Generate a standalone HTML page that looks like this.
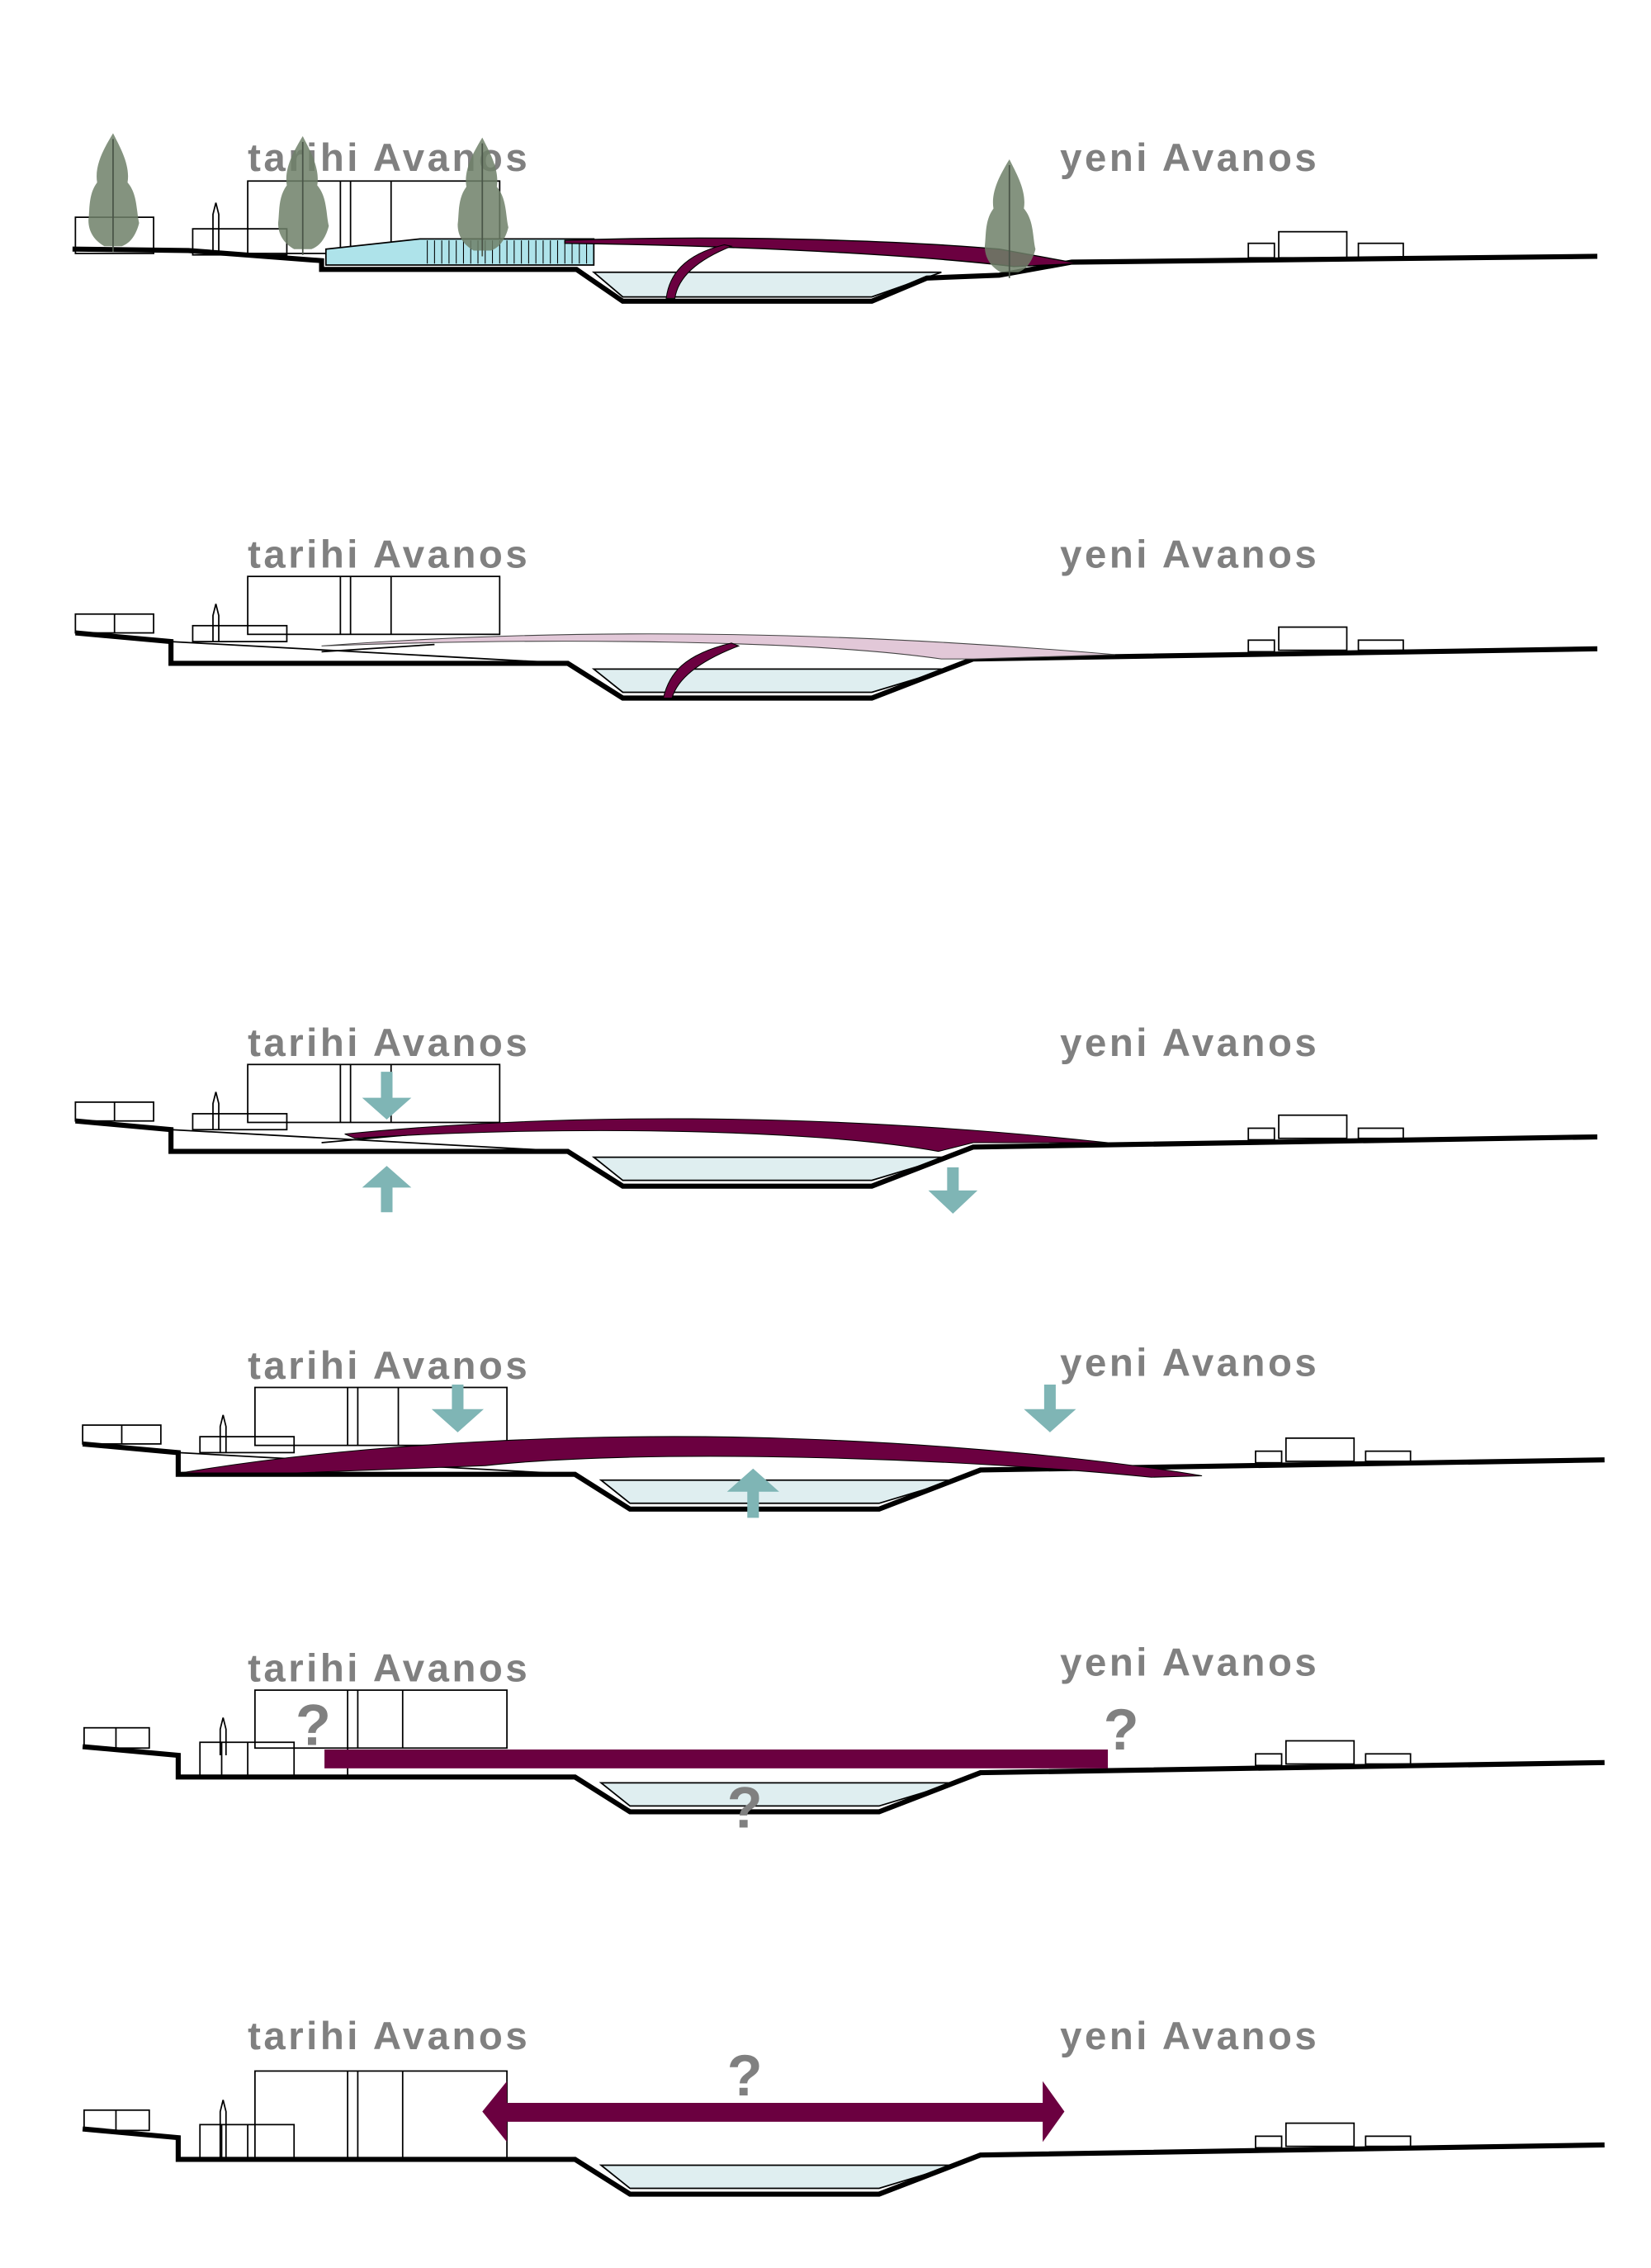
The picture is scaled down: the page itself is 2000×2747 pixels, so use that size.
<!DOCTYPE html>
<html><head><meta charset="utf-8"><style>
html,body{margin:0;padding:0;background:#fff;}
svg{display:block;}
text{font-family:"Liberation Sans",sans-serif;font-weight:bold;fill:#808080;}
</style></head><body>
<svg width="2000" height="2747" viewBox="0 0 1140 1566" xmlns="http://www.w3.org/2000/svg">
<defs>
<g id="tree">
<path d="M0,-48 C5,-38 12,-26 10,-14 C17,-6 16,6 18,14 C16,22 12,28 6,30 L-6,30 C-13,26 -17,20 -17,12 C-16,4 -17,-6 -11,-14 C-13,-26 -6,-38 0,-48Z" fill="#6f8068" opacity="0.85"/>
<line x1="0" y1="-44" x2="0" y2="34" stroke="#4a5548" stroke-width="1"/>
</g>
</defs>

<!-- ===== SECTION 1 ===== -->
<text x="171" y="118" font-size="27" letter-spacing="2">tarihi Avanos</text>
<text x="732" y="118" font-size="27" letter-spacing="2">yeni Avanos</text>
<g fill="none" stroke="#000" stroke-width="1">
<rect x="52" y="150" width="54" height="25"/>
<rect x="133" y="158" width="65" height="18"/>
<rect x="171" y="125" width="174" height="50"/>
<line x1="235" y1="125" x2="235" y2="175"/><line x1="242" y1="125" x2="242" y2="175"/><line x1="270" y1="125" x2="270" y2="175"/>
<path d="M147,175 L147,148 L149,140 L151,148 L151,175"/>
<rect x="862" y="168" width="18" height="10"/>
<rect x="883" y="160" width="47" height="18"/>
<rect x="938" y="168" width="31" height="10"/>
</g>
<path d="M225,172 L290,165 L410,165 L410,183 L225,183Z" fill="#aee3ea" stroke="#000" stroke-width="1"/>
<g stroke="#000" stroke-width="0.6">
<line x1="295" y1="166" x2="295" y2="182"/><line x1="300" y1="166" x2="300" y2="182"/><line x1="305" y1="166" x2="305" y2="182"/><line x1="310" y1="166" x2="310" y2="182"/><line x1="315" y1="166" x2="315" y2="182"/><line x1="320" y1="166" x2="320" y2="182"/><line x1="325" y1="166" x2="325" y2="182"/><line x1="330" y1="166" x2="330" y2="182"/><line x1="335" y1="166" x2="335" y2="182"/><line x1="340" y1="166" x2="340" y2="182"/><line x1="345" y1="166" x2="345" y2="182"/><line x1="350" y1="166" x2="350" y2="182"/><line x1="355" y1="166" x2="355" y2="182"/><line x1="360" y1="166" x2="360" y2="182"/><line x1="365" y1="166" x2="365" y2="182"/><line x1="370" y1="166" x2="370" y2="182"/><line x1="375" y1="166" x2="375" y2="182"/><line x1="380" y1="166" x2="380" y2="182"/><line x1="385" y1="166" x2="385" y2="182"/><line x1="390" y1="166" x2="390" y2="182"/><line x1="395" y1="166" x2="395" y2="182"/><line x1="400" y1="166" x2="400" y2="182"/><line x1="405" y1="166" x2="405" y2="182"/>
</g>
<path d="M410,188 L650,188 L602,205 L430,205Z" fill="#dfeef0" stroke="#000" stroke-width="1"/>
<path d="M50,172 L130,173 L222,180 L222,186 L365,186 L398,186 L430,208 L602,208 L640,192 L690,190 L740,181 L1103,177" fill="none" stroke="#000" stroke-width="3.5"/>
<path d="M390,166 C500,162 620,166 690,172 L745,182 L700,184 C650,178 540,170 390,168Z" fill="#6b0040" stroke="#000" stroke-width="0.8"/>
<path d="M460,206 C462,190 472,176 500,169 L505,170 C480,180 468,192 466,206Z" fill="#6b0040" stroke="#000" stroke-width="0.6"/>
<use href="#tree" x="78" y="140"/>
<use href="#tree" x="209" y="142"/>
<use href="#tree" x="333" y="143"/>
<use href="#tree" x="697" y="158"/>

<!-- ===== SECTION 2 ===== -->
<text x="171" y="392" font-size="27" letter-spacing="2">tarihi Avanos</text>
<text x="732" y="392" font-size="27" letter-spacing="2">yeni Avanos</text>
<g fill="none" stroke="#000" stroke-width="1">
<rect x="52" y="424" width="54" height="13"/><line x1="79" y1="424" x2="79" y2="437"/>
<rect x="133" y="432" width="65" height="11"/>
<rect x="171" y="398" width="174" height="40"/>
<line x1="235" y1="398" x2="235" y2="438"/><line x1="242" y1="398" x2="242" y2="438"/><line x1="270" y1="398" x2="270" y2="438"/>
<path d="M147,443 L147,425 L149,417 L151,425 L151,443"/>
<rect x="862" y="442" width="18" height="8"/>
<rect x="883" y="433" width="47" height="16"/>
<rect x="938" y="442" width="31" height="7"/>
<path d="M118,443 L392,458"/><path d="M222,450 L300,445"/>
</g>
<path d="M410,462 L655,462 L602,478 L430,478Z" fill="#dfeef0" stroke="#000" stroke-width="1"/>
<path d="M52,437 L118,443 L118,458 L392,458 L430,482 L602,482 L672,455 L1103,448" fill="none" stroke="#000" stroke-width="3.5"/>
<path d="M222,446 C380,434 560,434 770,452 L672,455 L650,455 C560,442 380,440 222,446Z" fill="#e2c8d8" stroke="#444" stroke-width="0.6"/>
<path d="M458,482 C462,465 472,452 505,444 L510,446 C484,456 468,468 464,482Z" fill="#6b0040" stroke="#000" stroke-width="0.6"/>

<!-- ===== SECTION 3 ===== -->
<text x="171" y="729" font-size="27" letter-spacing="2">tarihi Avanos</text>
<text x="732" y="729" font-size="27" letter-spacing="2">yeni Avanos</text>
<g transform="translate(0,337)">
<g fill="none" stroke="#000" stroke-width="1">
<rect x="52" y="424" width="54" height="13"/><line x1="79" y1="424" x2="79" y2="437"/>
<rect x="133" y="432" width="65" height="11"/>
<rect x="171" y="398" width="174" height="40"/>
<line x1="235" y1="398" x2="235" y2="438"/><line x1="242" y1="398" x2="242" y2="438"/><line x1="270" y1="398" x2="270" y2="438"/>
<path d="M147,443 L147,425 L149,417 L151,425 L151,443"/>
<rect x="862" y="442" width="18" height="8"/>
<rect x="883" y="433" width="47" height="16"/>
<rect x="938" y="442" width="31" height="7"/>
<path d="M118,443 L392,458"/><path d="M222,452 L300,445"/>
</g>
<path d="M410,462 L655,462 L602,478 L430,478Z" fill="#dfeef0" stroke="#000" stroke-width="1"/>
<path d="M52,437 L118,443 L118,458 L392,458 L430,482 L602,482 L672,455 L1103,448" fill="none" stroke="#000" stroke-width="3.5"/>
<path d="M238,446 C380,432 560,430 765,452 L672,452 L648,458 C560,442 380,440 245,449Z" fill="#6b0040" stroke="#000" stroke-width="0.6"/>
</g>
<g fill="#7fb5b5">
<path d="M263,740 L271,740 L271,758 L284,758 L267,773 L250,758 L263,758Z"/>
<path d="M263,837 L271,837 L271,820 L284,820 L267,805 L250,820 L263,820Z"/>
<path d="M654,806 L662,806 L662,822 L675,822 L658,838 L641,822 L654,822Z"/>
</g>

<!-- ===== SECTION 4 ===== -->
<text x="171" y="952" font-size="27" letter-spacing="2">tarihi Avanos</text>
<text x="732" y="950" font-size="27" letter-spacing="2">yeni Avanos</text>
<g transform="translate(5,560)">
<g fill="none" stroke="#000" stroke-width="1">
<rect x="52" y="424" width="54" height="13"/><line x1="79" y1="424" x2="79" y2="437"/>
<rect x="133" y="432" width="65" height="11"/>
<rect x="171" y="398" width="174" height="40"/>
<line x1="235" y1="398" x2="235" y2="438"/><line x1="242" y1="398" x2="242" y2="438"/><line x1="270" y1="398" x2="270" y2="438"/>
<path d="M147,443 L147,425 L149,417 L151,425 L151,443"/>
<rect x="862" y="442" width="18" height="8"/>
<rect x="883" y="433" width="47" height="16"/>
<rect x="938" y="442" width="31" height="7"/>
<path d="M118,443 L392,458"/>
</g>
<path d="M410,462 L655,462 L602,478 L430,478Z" fill="#dfeef0" stroke="#000" stroke-width="1"/>
<path d="M52,437 L118,443 L118,458 L392,458 L430,482 L602,482 L672,455 L1103,448" fill="none" stroke="#000" stroke-width="3.5"/>
<path d="M120,457 C250,435 420,428 560,434 C660,438 760,448 825,459 L790,460 C650,446 440,440 330,452 L200,457Z" fill="#6b0040" stroke="#000" stroke-width="0.6"/>
</g>
<g fill="#7fb5b5">
<path d="M312,956 L320,956 L320,973 L334,973 L316,989 L298,973 L312,973Z"/>
<path d="M721,956 L729,956 L729,973 L743,973 L725,989 L707,973 L721,973Z"/>
<path d="M516,1048 L524,1048 L524,1030 L538,1030 L520,1014 L502,1030 L516,1030Z"/>
</g>

<!-- ===== SECTION 5 ===== -->
<text x="171" y="1161" font-size="27" letter-spacing="2">tarihi Avanos</text>
<text x="732" y="1157" font-size="27" letter-spacing="2">yeni Avanos</text>
<g transform="translate(5,769)">
<g fill="none" stroke="#000" stroke-width="1">
<rect x="53" y="424" width="45" height="14"/><line x1="75" y1="424" x2="75" y2="438"/>
<rect x="133" y="434" width="65" height="24"/>
<rect x="171" y="398" width="174" height="40"/>
<line x1="235" y1="398" x2="235" y2="458"/><line x1="242" y1="398" x2="242" y2="438"/><line x1="273" y1="398" x2="273" y2="438"/>
<line x1="148" y1="434" x2="148" y2="458"/><line x1="166" y1="434" x2="166" y2="458"/>
<path d="M147,443 L147,425 L149,417 L151,425 L151,443"/>
<rect x="862" y="442" width="18" height="8"/>
<rect x="883" y="433" width="47" height="16"/>
<rect x="938" y="442" width="31" height="7"/>
</g>
<path d="M410,462 L655,462 L602,478 L430,478Z" fill="#dfeef0" stroke="#000" stroke-width="1"/>
<path d="M52,437 L118,443 L118,458 L392,458 L430,482 L602,482 L672,455 L1103,448" fill="none" stroke="#000" stroke-width="3.5"/>
</g>
<rect x="224" y="1208" width="541" height="13" fill="#6b0040"/>
<text x="204" y="1205" font-size="40" fill="#808080">?</text>
<text x="762" y="1208" font-size="40" fill="#808080">?</text>
<text x="502" y="1262" font-size="40" fill="#808080">?</text>

<!-- ===== SECTION 6 ===== -->
<text x="171" y="1415" font-size="27" letter-spacing="2">tarihi Avanos</text>
<text x="732" y="1415" font-size="27" letter-spacing="2">yeni Avanos</text>
<g transform="translate(5,1033)">
<g fill="none" stroke="#000" stroke-width="1">
<rect x="53" y="424" width="45" height="14"/><line x1="75" y1="424" x2="75" y2="438"/>
<rect x="133" y="434" width="65" height="24"/>
<rect x="171" y="397" width="174" height="61"/>
<line x1="235" y1="397" x2="235" y2="458"/><line x1="242" y1="397" x2="242" y2="458"/><line x1="273" y1="397" x2="273" y2="458"/>
<line x1="148" y1="434" x2="148" y2="458"/><line x1="166" y1="434" x2="166" y2="458"/>
<path d="M147,458 L147,425 L149,417 L151,425 L151,458"/>
<rect x="862" y="442" width="18" height="8"/>
<rect x="883" y="433" width="47" height="16"/>
<rect x="938" y="442" width="31" height="7"/>
</g>
<path d="M410,462 L655,462 L602,478 L430,478Z" fill="#dfeef0" stroke="#000" stroke-width="1"/>
<path d="M52,437 L118,443 L118,458 L392,458 L430,482 L602,482 L672,455 L1103,448" fill="none" stroke="#000" stroke-width="3.5"/>
</g>
<path d="M333,1458 L350,1437 L350,1452 L720,1452 L720,1437 L735,1458 L720,1479 L720,1465 L350,1465 L350,1479Z" fill="#6b0040"/>
<text x="502" y="1447" font-size="40" fill="#808080">?</text>
</svg>
</body></html>
